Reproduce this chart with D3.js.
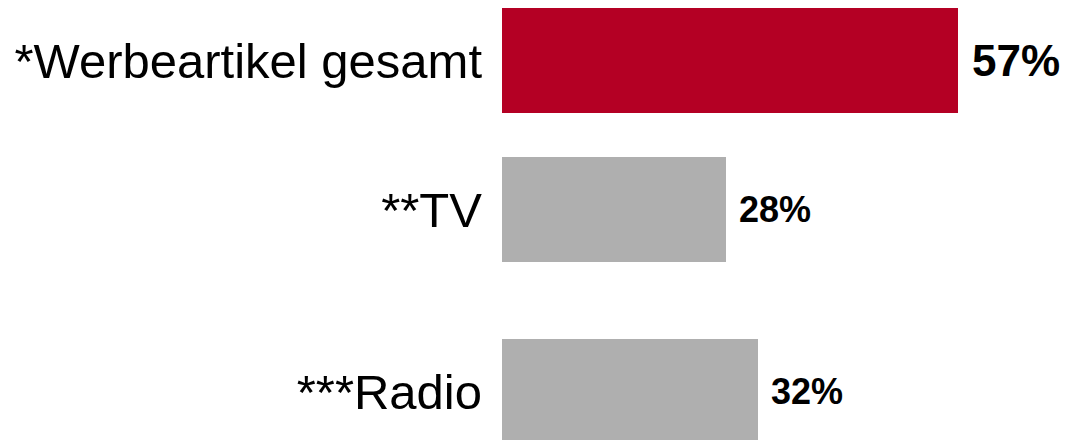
<!DOCTYPE html>
<html>
<head>
<meta charset="utf-8">
<script src="https://cdn.jsdelivr.net/npm/d3@7"></script>
<style>
  html, body { margin: 0; padding: 0; background: #fff; }
  svg { display: block; }
</style>
</head>
<body>
<svg id="chart" width="1066" height="440"></svg>
<script>
// Reichweite nach Werbeträger (in %)
const categories = ["*Werbeartikel gesamt", "**TV", "***Radio"];
const values = [57, 28, 32];
const valueLabels = ["57%", "28%", "32%"];
const highlight = [true, false, false];

const W = 1066, H = 440;
const svg = d3.select("#chart");

const barLeft = 502;
const barHeight = 105;

// horizontal value scale: 8 px per percentage point
const x = d3.scaleLinear().domain([0, 100]).range([barLeft, barLeft + 800]);

// row centres (rows are not evenly spaced)
const y = d3.scaleOrdinal().domain(categories).range([60.5, 209.5, 391.5]);

const rows = categories.map((c, i) => ({
  cat: c, value: values[i], label: valueLabels[i], hi: highlight[i]
}));

const g = svg.append("g");

g.selectAll("rect.bar")
  .data(rows)
  .join("rect")
  .attr("class", "bar")
  .attr("x", x(0))
  .attr("y", d => y(d.cat) - barHeight / 2)
  .attr("width", d => x(d.value) - x(0))
  .attr("height", barHeight)
  .attr("fill", d => d.hi ? "#b40024" : "#afafaf");

// category labels, right-aligned before the bars
g.selectAll("text.cat")
  .data(rows)
  .join("text")
  .attr("class", "cat")
  .attr("x", x(0) - 20)
  .attr("y", d => y(d.cat))
  .attr("dy", "0.36em")
  .attr("text-anchor", "end")
  .attr("font-family", "Liberation Sans, Arial, sans-serif")
  .attr("font-size", 49)
  .attr("fill", "#000")
  .text(d => d.cat);

// value labels after the bar ends
g.selectAll("text.val")
  .data(rows)
  .join("text")
  .attr("class", "val")
  .attr("x", d => x(d.value) + (d.hi ? 14 : 13))
  .attr("y", d => y(d.cat))
  .attr("dy", "0.36em")
  .attr("font-family", "Liberation Sans, Arial, sans-serif")
  .attr("font-weight", "bold")
  .attr("font-size", d => d.hi ? 44 : 36)
  .attr("fill", "#000")
  .text(d => d.label);
</script>
</body>
</html>
